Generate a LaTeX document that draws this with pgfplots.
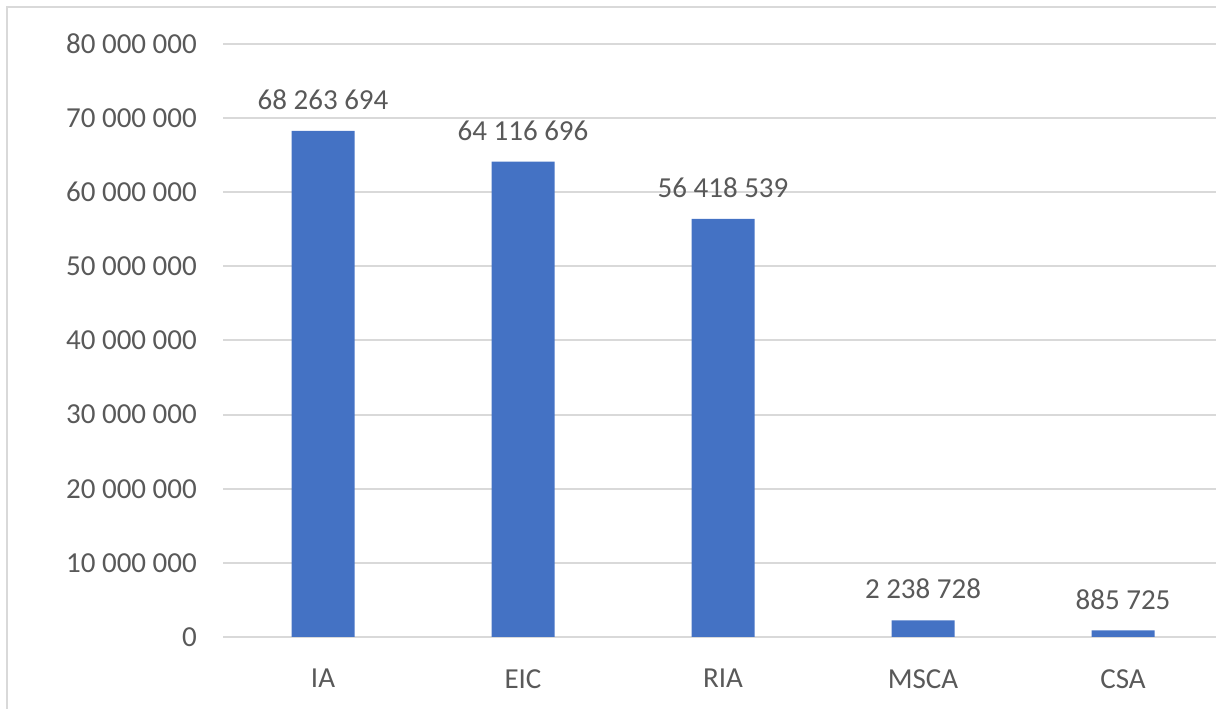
\documentclass[border=0pt]{standalone}
\usepackage{fontspec}
\setmainfont{Carlito}
\usepackage{pgfplots}
\pgfplotsset{compat=1.18}
\definecolor{barc}{HTML}{4472C4}
\definecolor{txt}{HTML}{595959}
\definecolor{grd}{HTML}{D9D9D9}
\begin{document}
\begin{tikzpicture}
\begin{axis}[
  scale only axis, width=1000pt, height=593pt,
  xmin=-0.5, xmax=4.5, ymin=0, ymax=80000000,
  scaled y ticks=false,
  axis line style={draw=none},
  major tick length=0pt,
  ymajorgrids, grid style={grd, line width=2pt},
  xtick={0,1,2,3,4}, xticklabels={IA,EIC,RIA,MSCA,CSA},
  ytick={0,10000000,20000000,30000000,40000000,50000000,60000000,70000000,80000000},
  yticklabels={0,10 000 000,20 000 000,30 000 000,40 000 000,50 000 000,60 000 000,70 000 000,80 000 000},
  tick label style={font=\fontsize{29}{34}\selectfont, text=txt, inner sep=0pt},
  yticklabel style={anchor=east, xshift=-26pt},
  xticklabel style={anchor=north, yshift=-32pt},
  ybar, bar width=63pt,
  clip=false,
  nodes near coords, point meta=explicit symbolic,
  every node near coord/.append style={font=\fontsize{29}{34}\selectfont, text=txt, inner sep=0pt, anchor=south, yshift=21pt},
]
\addplot[fill=barc, draw=none] coordinates {
  (0,68263694) [68 263 694]
  (1,64116696) [64 116 696]
  (2,56418539) [56 418 539]
  (3,2238728) [2 238 728]
  (4,885725) [885 725]
};
\end{axis}
\pgfresetboundingbox
\path[use as bounding box] ([xshift=-223pt,yshift=-72pt]current axis.south west) rectangle ([xshift=-7pt,yshift=44pt]current axis.north east);
\draw[grd, line width=2.5pt] ([xshift=-216pt,yshift=-100pt]current axis.south west) rectangle ([xshift=50pt,yshift=37pt]current axis.north east);
\end{tikzpicture}
\end{document}
